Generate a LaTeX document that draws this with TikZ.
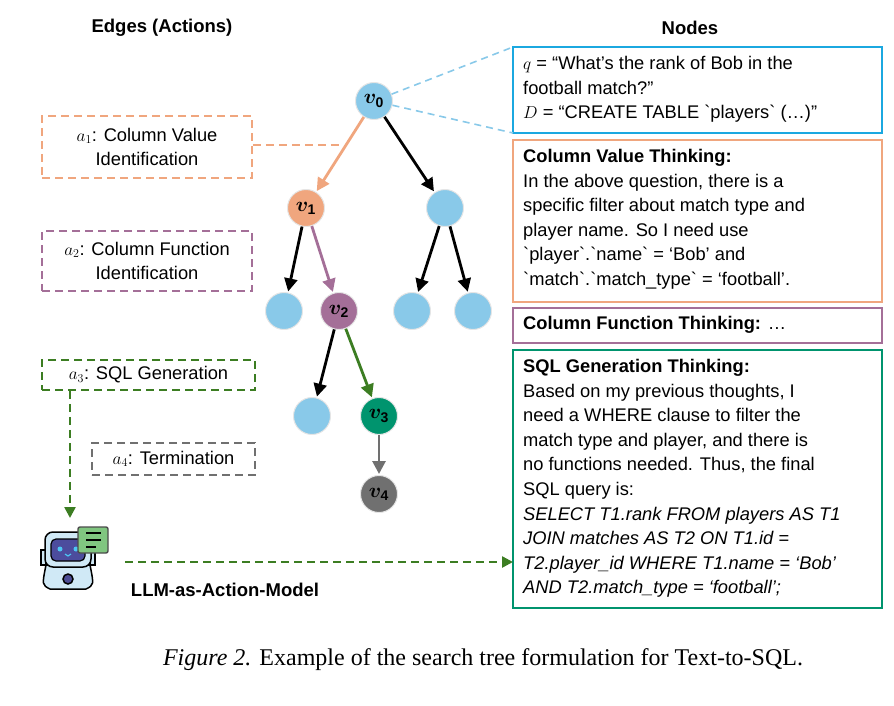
\documentclass[tikz,border=0pt]{standalone}
\usepackage{bm}
\usepackage{fontspec}
\setmainfont{Liberation Sans}
\newfontfamily\btf{Liberation Sans}[Ligatures=TeXOff]
\newfontfamily\capfont{Liberation Serif}
\usetikzlibrary{arrows.meta}
\definecolor{cblue}{HTML}{89C9E9}
\definecolor{bblue}{HTML}{1BA8E0}
\definecolor{corange}{HTML}{F0A67E}
\definecolor{cpurple}{HTML}{A46F98}
\definecolor{cgreen}{HTML}{00946E}
\definecolor{dgreen}{HTML}{3C7D22}
\definecolor{cgray}{HTML}{707070}
\newcommand{\bt}{{\btf\char96}}
\begin{document}
\begin{tikzpicture}[x=1pt,y=-1pt,font=\fontsize{18.3}{24.6}\selectfont,
  tn/.style={circle,minimum size=37pt,inner sep=0pt,fill=cblue,draw=black!10,line width=1pt,font=\fontsize{20}{20}\selectfont},
  ed/.style={line width=2.8pt,-{Triangle[length=13pt,width=13pt]},shorten >=1pt},
  lbox/.style={draw,dashed,line width=1.6pt,dash pattern=on 8pt off 5pt},
  rtxt/.style={anchor=north west,align=left,inner sep=0pt},
  rb/.style={line width=1.8pt}]
\useasboundingbox (0,0) rectangle (894,706);
\node[font=\fontsize{18.5}{20}\selectfont\bfseries] (te) at (162,28) {Edges (Actions)};
\node[font=\fontsize{18.5}{20}\selectfont\bfseries] (tn) at (690,28) {Nodes};
% tree
\node[tn] (v0) at (374,101) {$\bm{v}_{\mathbf 0}$};
\node[tn,fill=corange] (v1) at (306,208) {$\bm{v}_{\mathbf 1}$};
\node[tn] (r1) at (445,208) {};
\node[tn] (l2) at (284,311) {};
\node[tn,fill=cpurple] (v2) at (339,311) {$\bm{v}_{\mathbf 2}$};
\node[tn] (m2) at (412,311) {};
\node[tn] (n2) at (473,311) {};
\node[tn] (l3) at (312,416) {};
\node[tn,fill=cgreen] (v3) at (379,416) {$\bm{v}_{\mathbf 3}$};
\node[tn,fill=cgray] (v4) at (379,494) {$\bm{v}_{\mathbf 4}$};
\draw[ed,corange] (v0) -- (v1);
\draw[ed] (v0) -- (r1);
\draw[ed] (v1) -- (l2);
\draw[ed,cpurple] (v1) -- (v2);
\draw[ed] (r1) -- (m2);
\draw[ed] (r1) -- (n2);
\draw[ed] (v2) -- (l3);
\draw[ed,dgreen] (v2) -- (v3);
\draw[ed,cgray] (v3) -- (v4);
% right boxes
\draw[rb,draw=bblue] (513,47) coordinate (b0nw) rectangle (882,133) coordinate (b0se);
\coordinate (b0sw) at (513,133);
\node[rtxt] (b0) at (523,56) {$q$ = “What’s the rank of Bob in the\\football match?”\\ $D$ = “CREATE TABLE \bt players\bt\ (…)”};
\draw[rb,draw=corange] (513,140) rectangle (882,302);
\node[rtxt] (b1) at (523,149) {\textbf{Column Value Thinking:}\\In the above question, there is a\\specific filter about match type and\\player name. So I need use\\\bt player\bt.\bt name\bt\ = ‘Bob’ and\\\bt match\bt.\bt match\_type\bt\ = ‘football’.};
\draw[rb,draw=cpurple] (513,308) rectangle (882,343);
\node[rtxt] (b2) at (523,316) {\textbf{Column Function Thinking:} …};
\draw[rb,draw=cgreen] (513,350) coordinate (b3nw) rectangle (882,608);
\node[rtxt] (b3) at (523,359) {\textbf{SQL Generation Thinking:}\\Based on my previous thoughts, I\\need a WHERE clause to filter the\\match type and player, and there is\\no functions needed. Thus, the final\\SQL query is:\\\itshape SELECT T1.rank FROM players AS T1\\\itshape JOIN matches AS T2 ON T1.id =\\\itshape T2.player\_id WHERE T1.name = ‘Bob’\\\itshape AND T2.match\_type = ‘football’;};
\draw[cblue,line width=1.6pt,dash pattern=on 7pt off 5pt] (v0) -- (b0nw);
\draw[cblue,line width=1.6pt,dash pattern=on 7pt off 5pt] (v0) -- (b0sw);
% left boxes
\node[lbox,draw=corange,minimum width=210pt,minimum height=62pt,align=center] (a1) at (147,147) {$a_1$: Column Value\\Identification};
\node[lbox,draw=cpurple,minimum width=210pt,minimum height=60pt,align=center] (a2) at (147,261) {$a_2$: Column Function\\Identification};
\node[lbox,draw=dgreen,minimum width=213pt,minimum height=30pt] (a3) at (148.5,375) {$a_3$: SQL Generation};
\node[lbox,draw=cgray,minimum width=163pt,minimum height=32pt] (a4) at (173.5,459) {$a_4$: Termination};
\coordinate (e1) at (343,145);
\draw[corange,line width=1.6pt,dash pattern=on 8pt off 5pt] (a1.east |- e1) -- (e1);
% robot
\begin{scope}[shift={(68,555)}]
\draw[line width=1.5pt,fill=cblue!40] (-22,10) .. controls (-26,30) .. (-18,34) -- (18,34) .. controls (26,30) .. (22,10) -- cycle;
\draw[line width=1.5pt,fill=cblue!40] (-27,-5) rectangle (-22,10);
\draw[line width=1.5pt,fill=cblue!40] (22,-5) rectangle (27,10);
\draw[line width=1.5pt,fill=cblue!40,rounded corners=8pt] (-23,-23) rectangle (23,12);
\draw[line width=1.2pt,fill=blue!45!black!70,rounded corners=5pt] (-17,-16) rectangle (17,6);
\fill[cyan!70] (-8,-6) circle (2.5pt) (8,-6) circle (2.5pt);
\draw[cyan!70,line width=1.2pt] (-3,-1) -- (0,1) -- (3,-1);
\draw[line width=1.5pt,fill=blue!40!black!70] (0,24) circle (5pt);
\end{scope}
\node[draw=black!70,line width=1.4pt,fill=green!55!black!50,minimum width=30pt,minimum height=26pt,inner sep=0pt,rounded corners=2pt] (bub) at (93,540) {};
\draw[line width=1.4pt] (86,533) -- (101,533) (86,540) -- (101,540) (86,547) -- (96,547);
\coordinate (rb) at (70,518);
\coordinate (rr) at (125,562);
\node[font=\fontsize{18.5}{20}\selectfont\bfseries] (llm) at (225,590) {LLM-as-Action-Model};
\draw[dgreen,line width=2.5pt,dash pattern=on 8pt off 5pt,-{Triangle[length=11pt,width=11pt]}] (a3.south -| rb) -- (rb);
\draw[dgreen,line width=2.5pt,dash pattern=on 8pt off 5pt,-{Triangle[length=11pt,width=11pt]}] (rr) -- (rr -| b3nw);
% caption
\node[font=\capfont\fontsize{24}{26}\selectfont] (cap) at (483,660) {\textit{Figure 2.} Example of the search tree formulation for Text-to-SQL.};
\end{tikzpicture}
\end{document}
